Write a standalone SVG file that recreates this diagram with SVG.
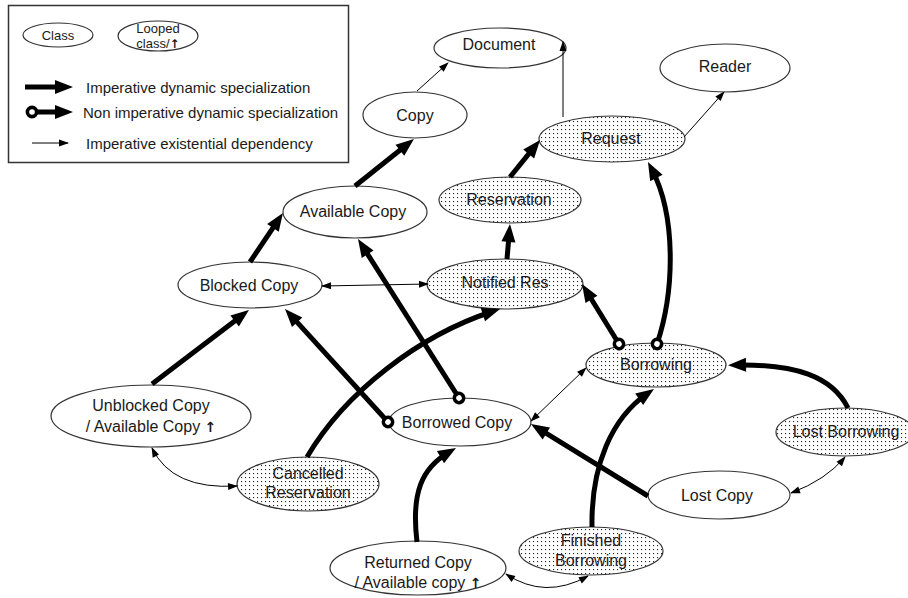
<svg xmlns="http://www.w3.org/2000/svg" width="908" height="598" viewBox="0 0 908 598">
  <defs>
    <!-- dotted fill for looped classes -->
    <pattern id="dots" width="4" height="4" patternUnits="userSpaceOnUse">
      <rect width="4" height="4" fill="#fff"/>
      <rect x="1" y="1" width="1.1" height="1.1" fill="#222"/>
    </pattern>
    <!-- imperative dynamic specialization head -->
    <marker id="bigHead" markerUnits="userSpaceOnUse" markerWidth="18" markerHeight="14" refX="10" refY="7" orient="auto" overflow="visible">
      <path d="M0,0 L18,7 L0,14 z" fill="#000"/>
    </marker>
    <!-- existential dependency head -->
    <marker id="thinHead" markerUnits="userSpaceOnUse" markerWidth="10" markerHeight="8" refX="9" refY="3.5" orient="auto-start-reverse" overflow="visible">
      <path d="M0,0 L10,3.5 L0,7 z" fill="#000"/>
    </marker>
    <!-- non imperative start ring -->
    <marker id="ring" markerUnits="userSpaceOnUse" markerWidth="16" markerHeight="16" refX="8" refY="8" orient="auto" overflow="visible">
      <circle cx="8" cy="8" r="4.6" fill="#fff" stroke="#000" stroke-width="3.6"/>
    </marker>
  </defs>
  <style>
    .cls { fill: #fff; stroke: #333; stroke-width: 1.2; }
    .loop { fill: url(#dots); stroke: #333; stroke-width: 1.2; }
    .lbl { font-family: "Liberation Sans", Arial, sans-serif; font-size: 16px; fill: #1a1a1a; text-anchor: middle; }
    .leg { font-family: "Liberation Sans", Arial, sans-serif; font-size: 15px; fill: #1a1a1a; }
    .small { font-family: "Liberation Sans", Arial, sans-serif; font-size: 13px; fill: #1a1a1a; text-anchor: middle; }
    .up { font-family: "DejaVu Sans", sans-serif; font-weight: bold; }
    .thick { fill: none; stroke: #000; stroke-width: 5; marker-end: url(#bigHead); }
    .ring { marker-start: url(#ring); }
    .thin { fill: none; stroke: #000; stroke-width: 1; marker-end: url(#thinHead); }
    .both { marker-start: url(#thinHead); }
  </style>

  <rect width="908" height="598" fill="#fff"/>

  <!-- legend -->
  <g id="legend">
    <rect x="8.5" y="5.5" width="340" height="157" fill="#fff" stroke="#333" stroke-width="1.5"/>
    <ellipse class="cls" cx="58" cy="35" rx="35" ry="12"/>
    <text class="small" x="58" y="40">Class</text>
    <ellipse class="cls" cx="158" cy="36" rx="40" ry="15"/>
    <text class="small" x="158" y="33">Looped</text>
    <text class="small" x="158" y="48">class/<tspan class="up" font-size="12">↑</tspan></text>
    <path class="thick" d="M25,87 L65,87"/>
    <text class="leg" x="86" y="93">Imperative dynamic specialization</text>
    <path class="thick ring" d="M32,112 L65,112"/>
    <text class="leg" x="83" y="118">Non imperative dynamic specialization</text>
    <path class="thin" d="M32,143 L68,143"/>
    <text class="leg" x="86" y="149">Imperative existential dependency</text>
  </g>

  <!-- classes -->
  <g id="document"><ellipse class="cls" cx="500" cy="48" rx="66" ry="20"/><text class="lbl" x="499" y="50">Document</text></g>
  <g id="reader"><ellipse class="cls" cx="725" cy="68" rx="65" ry="24"/><text class="lbl" x="725" y="72">Reader</text></g>
  <g id="copy"><ellipse class="cls" cx="415" cy="115" rx="52" ry="23"/><text class="lbl" x="415" y="121">Copy</text></g>
  <g id="request"><ellipse class="loop" cx="612" cy="139" rx="73" ry="23"/><text class="lbl" x="611" y="144">Request</text></g>
  <g id="available-copy"><ellipse class="cls" cx="355" cy="212" rx="72" ry="26"/><text class="lbl" x="353" y="217">Available Copy</text></g>
  <g id="reservation"><ellipse class="loop" cx="510" cy="200" rx="71" ry="23"/><text class="lbl" x="509" y="205">Reservation</text></g>
  <g id="blocked-copy"><ellipse class="cls" cx="250" cy="285" rx="72" ry="23"/><text class="lbl" x="249" y="291">Blocked Copy</text></g>
  <g id="notified-res"><ellipse class="loop" cx="505" cy="284" rx="78" ry="25"/><text class="lbl" x="505" y="288">Notified Res</text></g>
  <g id="borrowing"><ellipse class="loop" cx="656" cy="365" rx="70" ry="22"/><text class="lbl" x="656" y="370">Borrowing</text></g>
  <g id="lost-borrowing"><ellipse class="loop" cx="845" cy="432" rx="69" ry="24"/><text class="lbl" x="846" y="437">Lost Borrowing</text></g>
  <g id="borrowed-copy"><ellipse class="cls" cx="460" cy="422" rx="71" ry="24"/><text class="lbl" x="457" y="428">Borrowed Copy</text></g>
  <g id="lost-copy"><ellipse class="cls" cx="719" cy="495" rx="71" ry="24"/><text class="lbl" x="717" y="501">Lost Copy</text></g>
  <g id="unblocked-copy"><ellipse class="cls" cx="151" cy="416" rx="100" ry="31"/><text class="lbl" x="151" y="411">Unblocked Copy</text><text class="lbl" x="151" y="432">/ Available Copy <tspan class="up" font-size="14">↑</tspan></text></g>
  <g id="cancelled-reservation"><ellipse class="loop" cx="308" cy="484" rx="71" ry="27"/><text class="lbl" x="308" y="479">Cancelled</text><text class="lbl" x="308" y="498">Reservation</text></g>
  <g id="finished-borrowing"><ellipse class="loop" cx="591" cy="551" rx="72" ry="24"/><text class="lbl" x="591" y="546">Finished</text><text class="lbl" x="591" y="566">Borrowing</text></g>
  <g id="returned-copy"><ellipse class="cls" cx="418" cy="568" rx="88" ry="27"/><text class="lbl" x="418" y="568">Returned Copy</text><text class="lbl" x="418" y="588">/ Available copy <tspan class="up" font-size="14">↑</tspan></text></g>

  <!-- connectors -->
  <g id="connectors">
    <!-- existential dependencies -->
    <path class="thin" d="M417,91 L448,63"/>
    <path class="thin" d="M563,117 L563,42"/>
    <path class="thin" d="M684,137 L724,92"/>
    <path class="thin both" d="M322,286 L428,284"/>
    <path class="thin both" d="M531,421 L586,368"/>
    <path class="thin both" d="M152,448 Q172,490 237,486"/>
    <path class="thin both" d="M506,574 Q545,600 588,576"/>
    <path class="thin both" d="M791,493 Q826,480 845,457"/>

    <!-- imperative dynamic specializations -->
    <path class="thick" d="M355,186 L407.7,144"/>
    <path class="thick" d="M250,262 L278.5,219.6"/>
    <path class="thick" d="M510,177 L535,146.2"/>
    <path class="thick" d="M507,259 L509.3,232"/>
    <path class="thick" d="M152,384 L242.6,314.9"/>
    <path class="thick" d="M848,408 C832,376 795,364 736,365"/>
    <path class="thick" d="M648,496 L537.8,428.2"/>
    <path class="thick" d="M592,527 C591,465 612,418 647.4,393.5"/>
    <path class="thick" d="M417,542 C411,492 422,468 449.1,452.1"/>
    <path class="thick" d="M307,457 C345,392 420,335 492.4,311.5"/>

    <!-- non imperative dynamic specializations -->
    <path class="thick ring" d="M388,422 L290.4,314.9"/>
    <path class="thick ring" d="M459,398 L362.3,245.8"/>
    <path class="thick ring" d="M619,344 L586.2,290.8"/>
    <path class="thick ring" d="M657,344 C675,290 676,215 651.7,169.1"/>
  </g>
</svg>
